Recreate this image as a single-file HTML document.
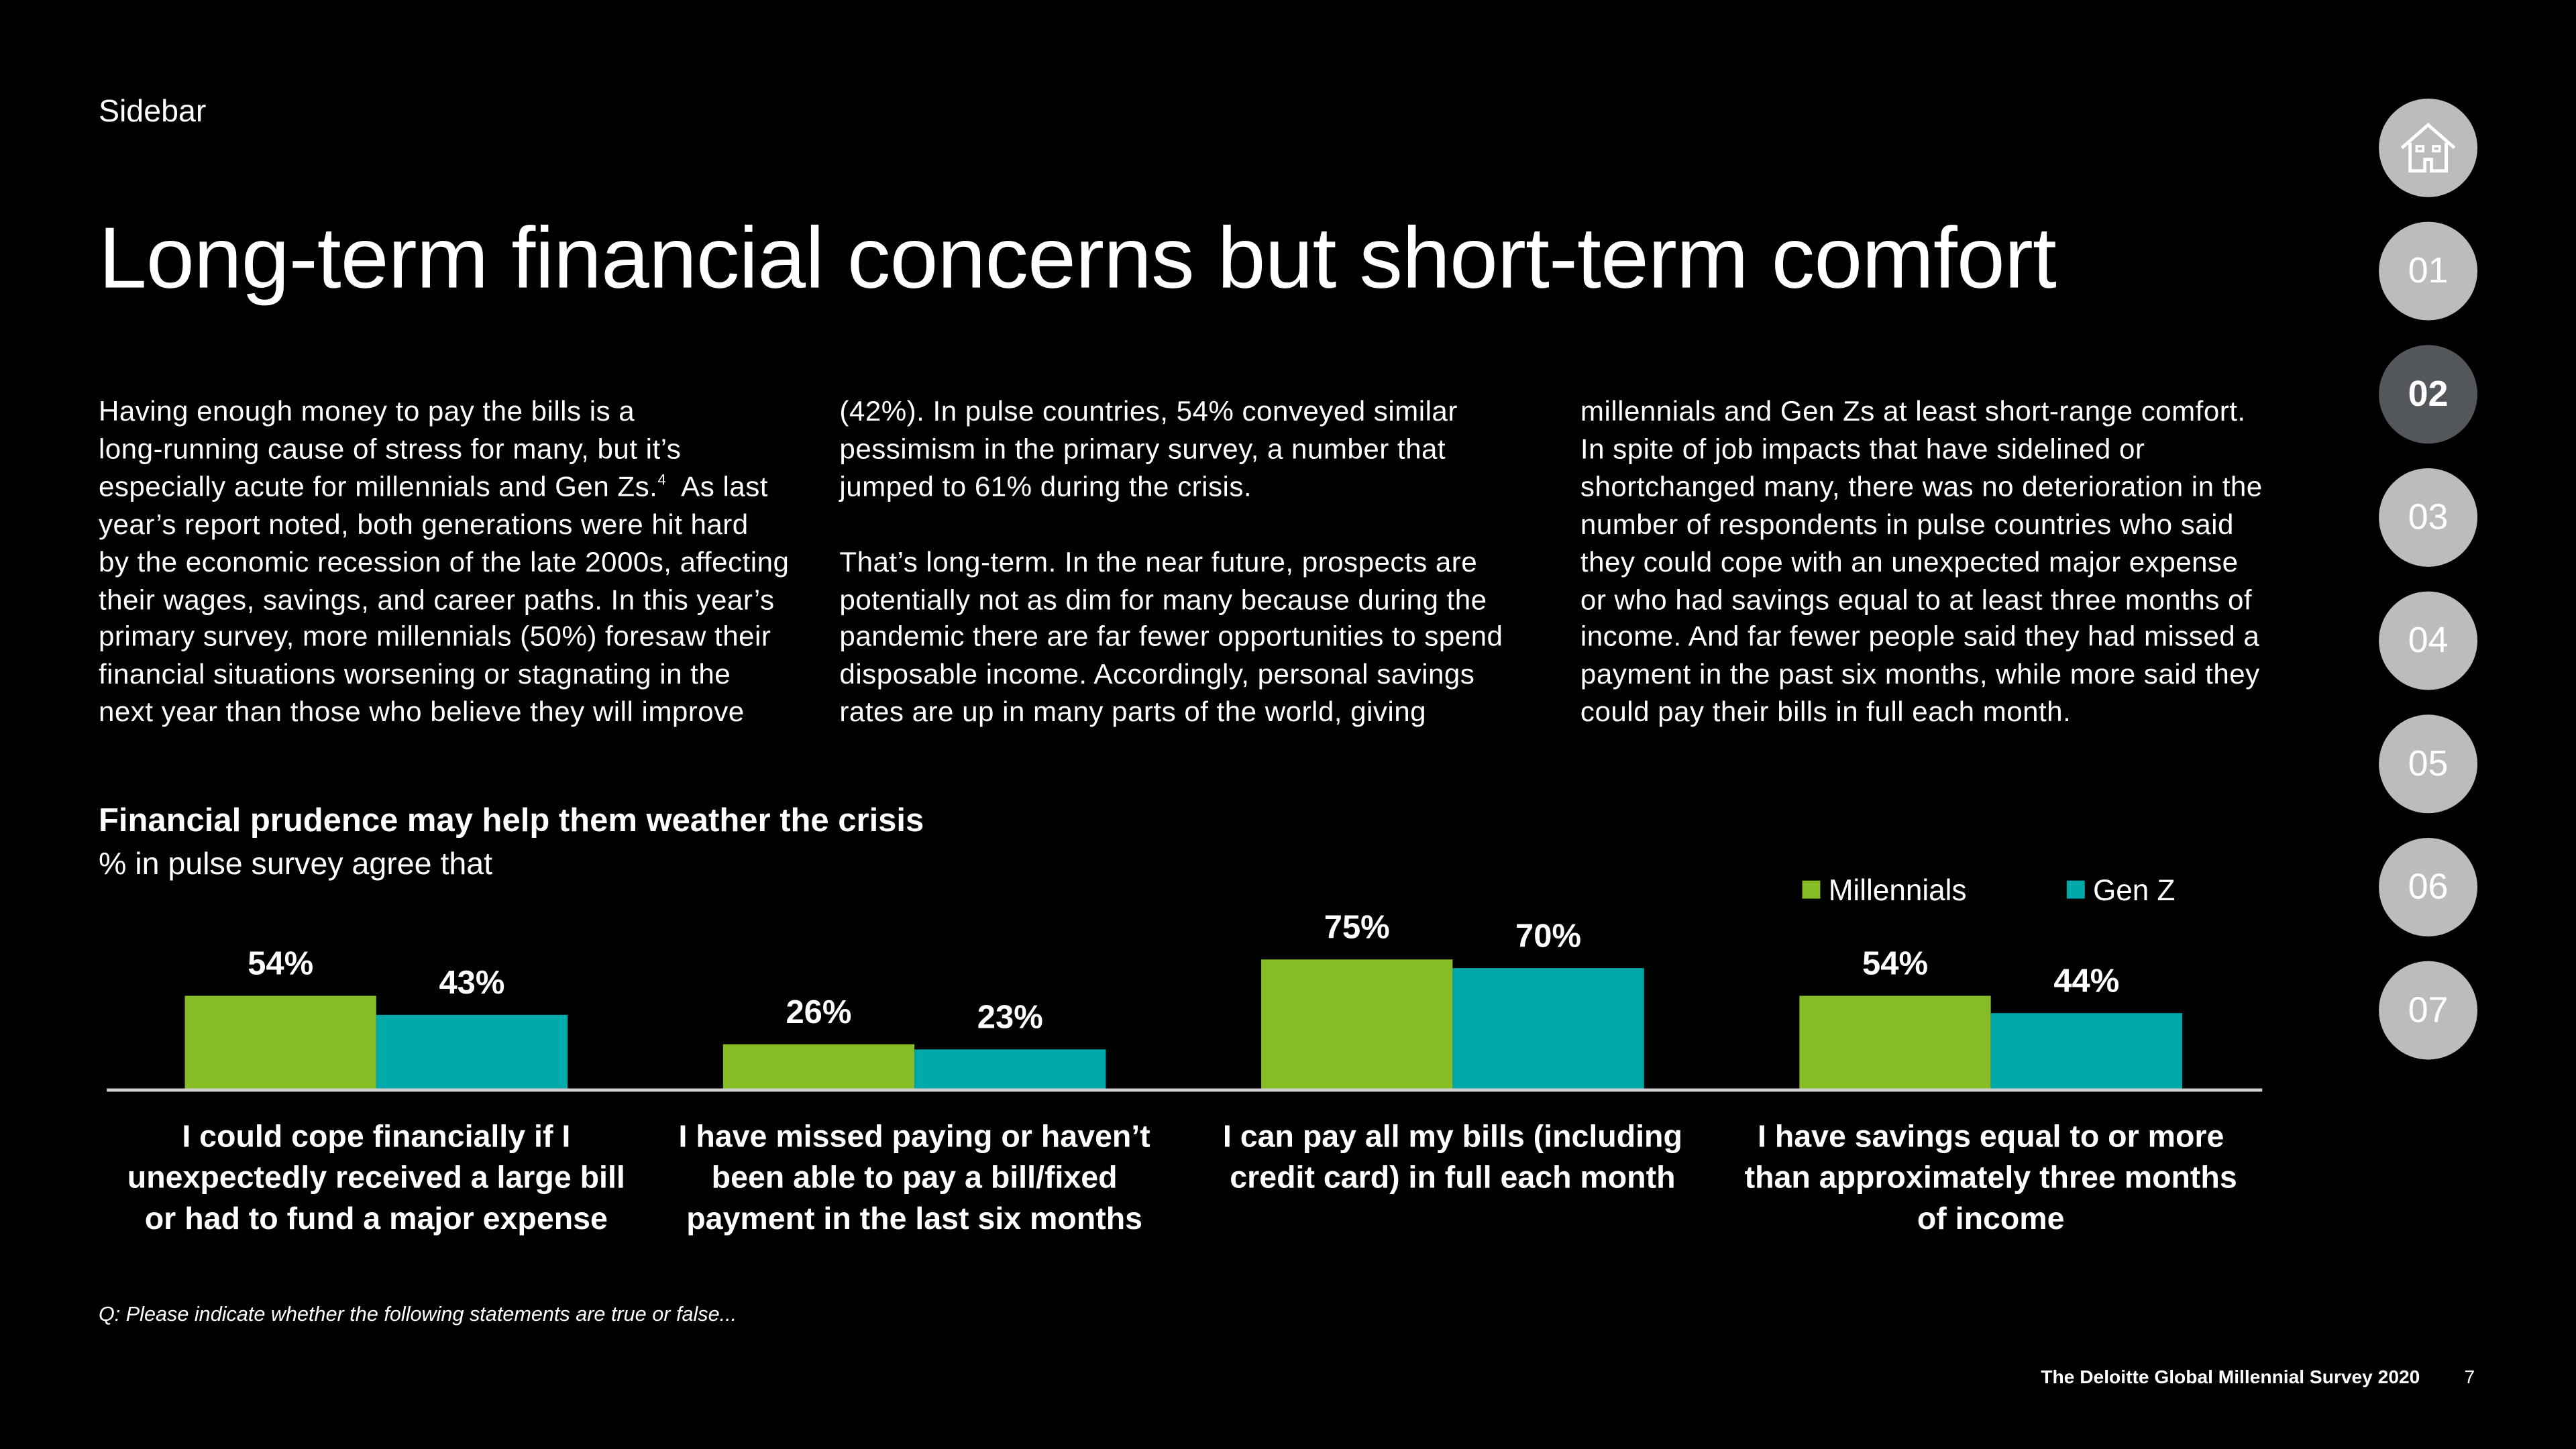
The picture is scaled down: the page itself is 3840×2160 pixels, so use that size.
<!DOCTYPE html>
<html><head><meta charset="utf-8"><style>
html,body{margin:0;padding:0;background:#000;}
body{width:3840px;height:2160px;overflow:hidden;}
#wrap{position:absolute;left:0;top:0;width:1568px;height:882px;transform:scale(2.44898);transform-origin:0 0;color:#fff;font-family:"Liberation Sans",sans-serif;}
.abs{position:absolute;}
.col{position:absolute;top:239px;width:450px;font-size:17.2px;letter-spacing:0.2px;line-height:22.9px;white-space:nowrap;}
.nav{position:absolute;left:1448px;width:60px;height:60px;border-radius:50%;background:#bbbcbc;color:#fff;font-size:22px;text-align:center;line-height:60px;}
sup{font-size:9px;line-height:0;position:relative;top:-7px;vertical-align:baseline;}
</style></head><body>
<div id="wrap">
<div class="abs" style="left:60px;top:58px;font-size:19px;">Sidebar</div>
<div class="abs" style="left:60px;top:127px;font-size:52.8px;letter-spacing:-0.4px;white-space:nowrap;">Long-term financial concerns but short-term comfort</div>
<div class="col" style="left:60px;">Having enough money to pay the bills is a<br>long-running cause of stress for many, but it’s<br>especially acute for millennials and Gen Zs.<sup>4</sup>&nbsp; As last<br>year’s report noted, both generations were hit hard<br>by the economic recession of the late 2000s, affecting<br>their wages, savings, and career paths. In this year’s<br>primary survey, more millennials (50%) foresaw their<br>financial situations worsening or stagnating in the<br>next year than those who believe they will improve</div>
<div class="col" style="left:511px;">(42%). In pulse countries, 54% conveyed similar<br>pessimism in the primary survey, a number that<br>jumped to 61% during the crisis.<br><br>That’s long-term. In the near future, prospects are<br>potentially not as dim for many because during the<br>pandemic there are far fewer opportunities to spend<br>disposable income. Accordingly, personal savings<br>rates are up in many parts of the world, giving</div>
<div class="col" style="left:962px;">millennials and Gen Zs at least short-range comfort.<br>In spite of job impacts that have sidelined or<br>shortchanged many, there was no deterioration in the<br>number of respondents in pulse countries who said<br>they could cope with an unexpected major expense<br>or who had savings equal to at least three months of<br>income. And far fewer people said they had missed a<br>payment in the past six months, while more said they<br>could pay their bills in full each month.</div>
<div class="abs" style="left:60px;top:489px;font-size:20px;font-weight:bold;letter-spacing:0px;">Financial prudence may help them weather the crisis</div>
<div class="abs" style="left:60px;top:516px;font-size:19px;">% in pulse survey agree that</div>
<svg class="abs" style="left:0;top:0" width="1568" height="882" id="chart"></svg>
<div class="abs" style="left:60px;top:793px;font-size:12.5px;font-style:italic;">Q: Please indicate whether the following statements are true or false...</div>
<div class="abs" style="left:1100px;width:373px;text-align:right;top:833px;font-size:11.5px;font-weight:bold;">The Deloitte Global Millennial Survey 2020</div>
<div class="abs" style="left:1500px;top:833px;font-size:11.5px;">7</div>
<div class="nav" style="top:60px;"><svg width="60" height="60" viewBox="0 0 60 60"><path d="M14 30 L30 16 L46 30 M19 27 V44 H28 V37 H32 V44 H41 V27" fill="none" stroke="#fff" stroke-width="2"/><rect x="23" y="29" width="4" height="3" fill="none" stroke="#fff" stroke-width="1.5"/><rect x="33" y="29" width="4" height="3" fill="none" stroke="#fff" stroke-width="1.5"/></svg></div>
<div class="nav" style="top:135px;">01</div>
<div class="nav" style="top:210px;background:#53565a;font-weight:bold;">02</div>
<div class="nav" style="top:285px;">03</div>
<div class="nav" style="top:360px;">04</div>
<div class="nav" style="top:435px;">05</div>
<div class="nav" style="top:510px;">06</div>
<div class="nav" style="top:585px;">07</div>
</div>
<script>
const categories = [
 ["I could cope financially if I","unexpectedly received a large bill","or had to fund a major expense"],
 ["I have missed paying or haven’t","been able to pay a bill/fixed","payment in the last six months"],
 ["I can pay all my bills (including","credit card) in full each month"],
 ["I have savings equal to or more","than approximately three months","of income"]
];
const millennials = [54, 26, 75, 54];
const genZ = [43, 23, 70, 44];
const seriesNames = ["Millennials", "Gen Z"];

const NS = "http://www.w3.org/2000/svg";
const svg = document.getElementById('chart');
const baseY = 663, pxPer = 1.053, groupStart = 229, groupStep = 327.6, barW = 116.5;
const colors = ["#86bc25", "#00a9aa"];
function y(v){ return baseY - v*pxPer; }
function gx(i){ return groupStart + i*groupStep; }
function mk(tag, attrs){ const e=document.createElementNS(NS,tag); for(const k in attrs) e.setAttribute(k,attrs[k]); svg.appendChild(e); return e; }
const series=[millennials, genZ];
series.forEach((vals,s)=>{
  vals.forEach((v,i)=>{
    const x = gx(i) + (s===0 ? -barW : 0);
    const r = mk('rect',{x:x,y:y(v),width:barW,height:v*pxPer,fill:colors[s]});
    
    
    const t = mk('text',{x:x+barW/2,y:y(v)-13,'text-anchor':'middle','font-size':20,'font-weight':'bold',fill:'#fff','font-family':'Liberation Sans, sans-serif'});
    t.textContent = v + '%';
    
    
  });
});
const base = mk('line',{x1:65,x2:1377,y1:baseY+0.5,y2:baseY+0.5,stroke:'#d0d0d0','stroke-width':2});


categories.forEach((lines,i)=>{
  lines.forEach((ln,j)=>{
    const t = mk('text',{x:gx(i),y:698+j*25,'text-anchor':'middle','font-size':19,'font-weight':'bold',fill:'#fff','font-family':'Liberation Sans, sans-serif'});
    t.textContent = ln;
    
    
  });
});
const legX=[1097,1258];
seriesNames.forEach((n,s)=>{
  const r = mk('rect',{x:legX[s],y:536,width:11,height:11,fill:colors[s]});
  
  
  const t = mk('text',{x:legX[s]+16,y:548,'font-size':18,fill:'#fff','font-family':'Liberation Sans, sans-serif'});
  t.textContent = n;
  
  
});
</script>
</body></html>
